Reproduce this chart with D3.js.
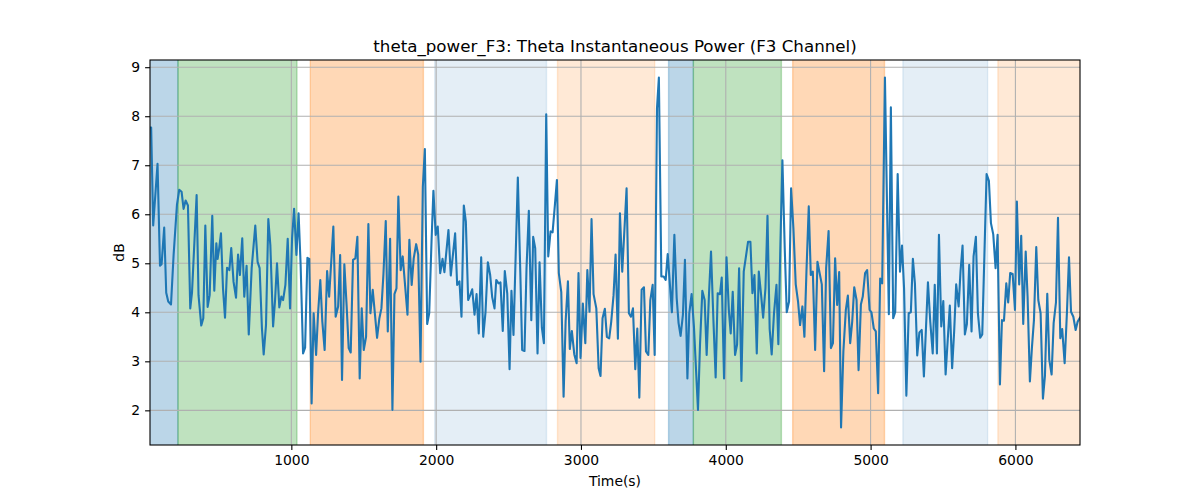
<!DOCTYPE html>
<html>
<head>
<meta charset="utf-8">
<script src="https://cdn.jsdelivr.net/npm/d3@7"></script>
<style>
  body { margin: 0; background: #fff; }
  text { font-family: "DejaVu Sans", sans-serif; }
</style>
</head>
<body>
<div id="chart"></div>
<script>
// sample times (s) and theta power (dB)
var times = [24, 32, 46, 76, 93, 104, 122, 136, 150, 169, 187, 210, 226, 242, 256, 270, 286, 302, 314, 346, 359, 378, 392, 406, 422, 436, 454, 468, 482, 491, 502, 514, 528, 542, 556, 572, 585, 601, 618, 632, 645, 661, 675, 691, 706, 726, 751, 767, 781, 797, 809,
  825, 841, 855, 874, 887, 901, 917, 931, 943, 959, 975, 991, 1005, 1019, 1035, 1050, 1064, 1081, 1095, 1111, 1124, 1140, 1154, 1171, 1184, 1200, 1214, 1230, 1247, 1261, 1290, 1306, 1323, 1337, 1350, 1366, 1382, 1396, 1410, 1426, 1442, 1456, 1472, 1486, 1500, 1516, 1532, 1546, 1562, 1592, 1608,
  1622, 1636, 1652, 1666, 1682, 1698, 1712, 1726, 1739, 1755, 1769, 1802, 1815, 1831, 1845, 1862, 1876, 1892, 1908, 1922, 1938, 1952, 1968, 1981, 1997, 2011, 2028, 2044, 2057, 2085, 2101, 2131, 2145, 2161, 2175, 2191, 2205, 2221, 2235, 2249, 2265, 2279, 2294, 2311, 2325, 2341, 2357, 2373, 2387, 2403,
  2415, 2431, 2444, 2460, 2474, 2491, 2507, 2520, 2534, 2564, 2581, 2594, 2610, 2624, 2640, 2657, 2670, 2684, 2700, 2714, 2730, 2744, 2760, 2774, 2790, 2804, 2820, 2834, 2847, 2864, 2880, 2894, 2910, 2923, 2937, 2954, 2970, 2983, 2997, 3013, 3030, 3044, 3059, 3073, 3087, 3106, 3122, 3135, 3149, 3165, 3179, 3195,
  3209, 3225, 3239, 3255, 3269, 3285, 3315, 3331, 3345, 3359, 3375, 3389, 3403, 3419, 3435, 3449, 3465, 3479, 3495, 3509, 3525, 3538, 3555, 3571, 3585, 3599, 3628, 3645, 3661, 3674, 3688, 3704, 3718, 3735, 3748, 3764, 3780, 3808, 3822, 3838, 3854, 3868, 3884, 3898, 3915, 3930, 3944, 3960, 3972, 3988,
  4005, 4021, 4034, 4048, 4064, 4078, 4092, 4108, 4124, 4154, 4170, 4184, 4198, 4214, 4228, 4244, 4258, 4274, 4288, 4303, 4317, 4333, 4350, 4363, 4377, 4391, 4407, 4421, 4437, 4451, 4467, 4483, 4499, 4513, 4529, 4543, 4557, 4573, 4587, 4601, 4617, 4633, 4663, 4679, 4693, 4710, 4726, 4740, 4755, 4769, 4783,
  4796, 4812, 4829, 4843, 4859, 4873, 4887, 4903, 4917, 4933, 4946, 4962, 4976, 4993, 5006, 5022, 5036, 5052, 5066, 5080, 5099, 5113, 5126, 5140, 5156, 5170, 5187, 5203, 5217, 5231, 5247, 5263, 5278, 5292, 5306, 5322, 5337, 5353, 5368, 5396, 5412, 5429, 5443, 5458, 5472, 5488, 5502, 5518,
  5547, 5563, 5577, 5591, 5608, 5621, 5635, 5651, 5665, 5681, 5697, 5711, 5727, 5741, 5757, 5771, 5801, 5817, 5831, 5847, 5863, 5877, 5893, 5907, 5921, 5937, 5950, 5964, 5981, 5997, 6010, 6026, 6040, 6054, 6071, 6084, 6100, 6114, 6128, 6144, 6158, 6174, 6190, 6204, 6220, 6234, 6250, 6264, 6280, 6294, 6310, 6323, 6340, 6356, 6370, 6384, 6400, 6416, 6430, 6446];

var power = [7.77, 7.77, 5.77, 7.03, 4.95, 4.98, 5.73, 4.40, 4.22, 4.16, 5.17, 6.19, 6.50, 6.46, 6.11, 6.28, 6.18, 4.08, 4.40, 6.39, 4.35, 3.73, 3.88, 5.77, 4.11, 4.35, 5.97, 4.44, 5.41, 5.09, 5.31, 5.61, 4.49, 3.89, 4.91, 4.86, 5.31, 4.62, 4.30, 5.18, 4.76, 5.51, 4.32, 4.95, 3.55, 4.90, 5.77, 5.03, 4.90, 3.67, 3.14,
  3.74, 5.90, 5.37, 3.71, 4.22, 5.00, 4.10, 4.32, 4.25, 4.56, 5.50, 4.08, 5.51, 6.11, 5.17, 6.02, 4.98, 3.16, 3.28, 5.11, 5.09, 2.14, 3.98, 3.13, 3.95, 4.66, 3.81, 3.23, 4.84, 4.32, 5.75, 3.91, 4.12, 5.17, 2.62, 4.98, 4.12, 3.27, 3.18, 5.07, 5.10, 5.54, 2.65, 4.08, 3.23, 3.50, 5.80, 3.98, 4.46, 3.48, 3.88,
  4.08, 4.78, 5.86, 3.61, 5.50, 2.01, 4.37, 4.49, 6.36, 4.86, 5.14, 3.95, 5.48, 4.56, 5.10, 5.39, 5.18, 2.99, 6.56, 7.33, 3.76, 3.98, 5.44, 6.48, 5.58, 5.75, 4.80, 5.09, 4.82, 5.68, 4.75, 5.61, 4.56, 4.63, 3.91, 6.18, 5.85, 4.25, 4.35, 4.47, 3.95, 4.37, 3.57, 5.12, 3.50, 4.01, 5.02, 4.76, 4.31, 4.08,
  4.66, 4.59, 4.61, 3.62, 4.84, 4.38, 2.84, 4.44, 3.54, 6.75, 4.83, 3.23, 3.21, 4.90, 6.07, 3.84, 5.54, 5.31, 3.16, 5.02, 3.69, 3.37, 8.04, 5.14, 5.65, 5.63, 6.19, 6.70, 4.80, 4.41, 2.28, 3.81, 4.63, 3.25, 3.62, 3.14, 2.96, 4.80, 3.07, 4.18, 3.37, 4.86, 4.01, 5.90, 4.37, 4.08, 2.86, 2.70, 3.88, 4.07, 3.50, 3.47,
  3.81, 4.35, 5.18, 3.46, 6.02, 4.83, 6.53, 3.98, 3.91, 4.08, 2.84, 3.67, 2.26, 4.46, 4.51, 3.20, 3.13, 4.25, 4.56, 3.13, 8.16, 8.79, 4.73, 4.73, 4.66, 5.19, 4.00, 5.58, 4.29, 3.78, 3.52, 3.95, 5.07, 2.65, 3.98, 4.37, 3.71, 2.01, 3.34, 4.44, 4.25, 3.13, 4.37, 5.24, 3.81, 2.67, 4.39, 4.37, 4.71, 2.65,
  5.12, 4.05, 3.57, 4.42, 3.13, 3.34, 4.90, 2.60, 4.83, 5.44, 5.44, 4.39, 4.76, 3.16, 4.83, 4.35, 3.89, 4.49, 5.97, 3.66, 3.14, 3.98, 4.56, 3.35, 5.37, 7.10, 5.31, 4.00, 4.22, 6.53, 5.71, 4.57, 4.22, 3.74, 4.12, 3.50, 4.83, 6.16, 4.76, 4.83, 3.23, 5.03, 4.57, 2.80, 4.90, 5.66, 3.27, 3.37, 5.10, 4.15, 4.82,
  1.65, 3.20, 4.05, 4.34, 3.37, 3.81, 4.51, 4.25, 2.82, 4.16, 4.32, 4.80, 4.86, 4.05, 4.00, 3.67, 3.61, 2.35, 4.69, 4.59, 8.79, 6.26, 3.96, 8.18, 3.88, 4.01, 6.82, 4.83, 5.36, 4.49, 2.30, 3.98, 4.00, 5.09, 4.59, 3.12, 3.59, 3.64, 2.69, 4.61, 3.81, 3.16, 4.56, 3.16, 5.58, 3.71, 4.23, 2.73,
  4.14, 2.86, 3.61, 4.57, 4.12, 4.84, 5.36, 3.55, 3.76, 4.97, 3.61, 5.14, 5.54, 3.98, 3.48, 3.55, 6.82, 6.68, 5.82, 5.59, 4.90, 5.58, 2.53, 3.84, 3.83, 4.59, 4.20, 4.80, 4.78, 4.05, 6.26, 4.57, 5.56, 3.76, 5.24, 4.32, 2.59, 3.28, 3.84, 5.33, 4.25, 3.98, 2.24, 2.71, 4.38, 3.03, 2.73, 3.78, 4.20, 5.93, 3.47, 3.66, 2.96, 4.01, 5.12, 4.01, 3.91, 3.64, 3.81, 3.89];

// shaded segments
var spanStart = [0, 217, 1131, 1990, 2838, 3605, 3776, 4462, 5223, 5879];
var spanEnd   = [217, 1039, 1912, 2762, 3509, 3776, 4384, 5096, 5808, 6500];
var spanColor = ["#1f77b4", "#2ca02c", "#ff7f0e", "#1f77b4", "#ff7f0e", "#1f77b4", "#2ca02c", "#ff7f0e", "#1f77b4", "#ff7f0e"];
var spanAlpha = [0.3, 0.3, 0.3, 0.12, 0.17, 0.3, 0.3, 0.3, 0.12, 0.17];

var xTicks = [1000, 2000, 3000, 4000, 5000, 6000];
var yTicks = [2, 3, 4, 5, 6, 7, 8, 9];

var W = 1200, H = 500;
var margin = { top: 60, right: 120, bottom: 55, left: 150 },
  width = W - margin.left - margin.right,
  height = H - margin.top - margin.bottom;

var svg = d3.select("#chart")
  .append("svg")
  .attr("width", W)
  .attr("height", H);

var data = times.map((t, i) => ({ t: t, v: power[i] }));

var x = d3.scaleLinear()
  .domain(d3.extent(times))
  .range([0, width]);

var vmin = d3.min(power), vmax = d3.max(power), pad = (vmax - vmin) * 0.05;
var y = d3.scaleLinear()
  .domain([vmin - pad, vmax + pad])
  .range([height, 0]);

svg.append("defs").append("clipPath")
  .attr("id", "clip")
  .append("rect")
  .attr("width", width)
  .attr("height", height);

var g = svg.append("g")
  .attr("transform", `translate(${margin.left},${margin.top})`);

var plot = g.append("g").attr("clip-path", "url(#clip)");

plot.selectAll(".span")
  .data(spanStart)
  .enter()
  .append("rect")
  .attr("x", (d, i) => x(d))
  .attr("width", (d, i) => x(spanEnd[i]) - x(d))
  .attr("y", -2)
  .attr("height", height + 4)
  .attr("fill", (d, i) => spanColor[i])
  .attr("fill-opacity", (d, i) => spanAlpha[i])
  .attr("stroke", (d, i) => spanColor[i])
  .attr("stroke-opacity", (d, i) => spanAlpha[i])
  .attr("stroke-width", 1.4);

// grid
plot.selectAll(".gx")
  .data(xTicks)
  .enter()
  .append("line")
  .attr("x1", d => x(d)).attr("x2", d => x(d))
  .attr("y1", 0).attr("y2", height)
  .attr("stroke", "#b0b0b0")
  .attr("stroke-width", 1.1);

plot.selectAll(".gy")
  .data(yTicks)
  .enter()
  .append("line")
  .attr("x1", 0).attr("x2", width)
  .attr("y1", d => y(d)).attr("y2", d => y(d))
  .attr("stroke", "#b0b0b0")
  .attr("stroke-width", 1.1);

var line = d3.line()
  .x(d => x(d.t))
  .y(d => y(d.v));

plot.append("path")
  .datum(data)
  .attr("d", line)
  .attr("fill", "none")
  .attr("stroke", "#1f77b4")
  .attr("stroke-width", 2.1)
  .attr("stroke-linejoin", "round")
  .attr("stroke-linecap", "square");

// axes
var xAxis = g.append("g")
  .attr("transform", `translate(0,${height})`)
  .call(d3.axisBottom(x).tickValues(xTicks).tickSize(4.9).tickPadding(4.9).tickFormat(d3.format("d")));

var yAxis = g.append("g")
  .call(d3.axisLeft(y).tickValues(yTicks).tickSize(4.9).tickPadding(4.9).tickFormat(d3.format("d")));

[xAxis, yAxis].forEach(a => {
  a.select(".domain").remove();
  a.selectAll("line").attr("stroke", "#000").attr("stroke-width", 1.1);
  a.selectAll("text")
    .attr("fill", "#000")
    .style("font-size", "13.9px")
    .style("font-family", "'DejaVu Sans', sans-serif");
});

g.append("rect")
  .attr("width", width)
  .attr("height", height)
  .attr("fill", "none")
  .attr("stroke", "#000")
  .attr("stroke-width", 1.1);

svg.append("text")
  .attr("x", margin.left + width / 2)
  .attr("y", 52)
  .attr("text-anchor", "middle")
  .style("font-size", "16.7px")
  .text("theta_power_F3: Theta Instantaneous Power (F3 Channel)");

svg.append("text")
  .attr("x", margin.left + width / 2)
  .attr("y", 486)
  .attr("text-anchor", "middle")
  .style("font-size", "13.9px")
  .text("Time(s)");

svg.append("text")
  .attr("transform", `translate(124,${margin.top + height / 2}) rotate(-90)`)
  .attr("text-anchor", "middle")
  .style("font-size", "13.9px")
  .text("dB");
</script>
</body>
</html>
